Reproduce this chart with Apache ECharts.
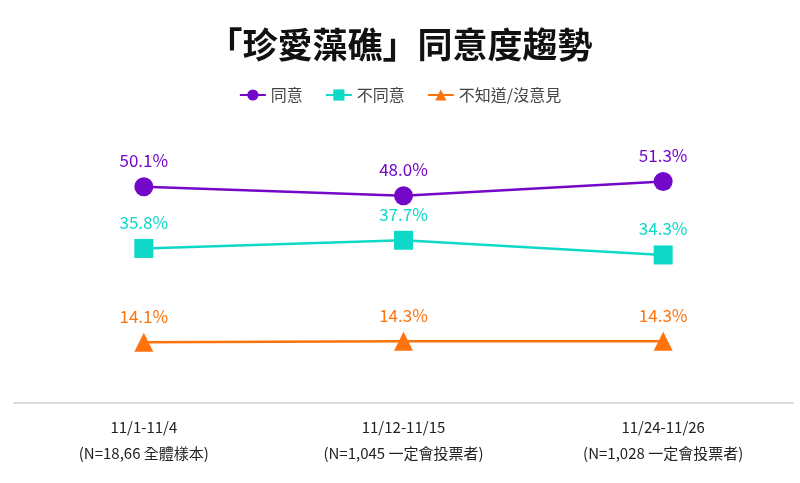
<!DOCTYPE html>
<html><head><meta charset="utf-8">
<script src="https://cdn.jsdelivr.net/npm/echarts@6/dist/echarts.min.js"></script>
<style>html,body{margin:0;padding:0;background:#fff}#c{width:800px;height:483px}</style>
</head><body><div id="c"></div>
<script>
const categories = ['11/1-11/4\n(N=18,66 全體樣本)', '11/12-11/15\n(N=1,045 一定會投票者)', '11/24-11/26\n(N=1,028 一定會投票者)'];
const agree = [50.1, 48.0, 51.3];
const disagree = [35.8, 37.7, 34.3];
const unknown = [14.1, 14.3, 14.3];
const seriesNames = ['同意', '不同意', '不知道/沒意見'];
const colors = ['#7408c9', '#0ed8c8', '#ff730c'];
const symbols = ['circle', 'rect', 'triangle'];

const chart = echarts.init(document.getElementById('c'));
const font = '"Noto Sans CJK TC", "Noto Sans", sans-serif';
chart.setOption({
  animation: false,
  title: {
    text: '「珍愛藻礁」同意度趨勢', left: 'center', top: 22,
    textStyle: { fontSize: 35, fontWeight: 'bold', color: '#111', fontFamily: font }
  },
  legend: {
    top: 82, left: 'center', itemWidth: 26, itemHeight: 14, itemGap: 22,
    textStyle: { fontSize: 16, color: '#444', fontFamily: font },
    data: seriesNames
  },
  grid: { left: 14, right: 7, top: 144, bottom: 80 },
  xAxis: {
    type: 'category', data: categories, boundaryGap: true,
    axisLine: { lineStyle: { color: '#d9d9d9', width: 2 } },
    axisTick: { show: false },
    axisLabel: { color: '#222', fontSize: 15, lineHeight: 26, margin: 11, fontFamily: font }
  },
  yAxis: { type: 'value', min: 0, max: 60, show: false, splitLine: { show: false } },
  series: [agree, disagree, unknown].map((d, i) => ({
    name: seriesNames[i], type: 'line', data: d,
    symbol: symbols[i], symbolSize: 19,
    itemStyle: { color: colors[i] },
    lineStyle: { color: colors[i], width: 2.5 },
    label: {
      show: true, position: 'top', distance: 8, color: colors[i], fontSize: 17,
      fontFamily: font, formatter: p => p.value.toFixed(1) + '%'
    }
  }))
});
</script></body></html>
